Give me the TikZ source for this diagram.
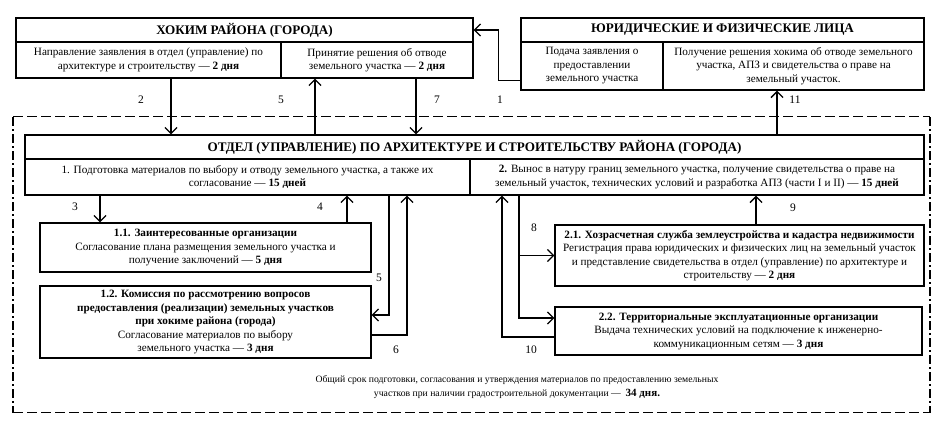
\documentclass[tikz,border=0pt]{standalone}
\usepackage{fontspec}
\setmainfont{Liberation Serif}
\usetikzlibrary{arrows.meta}

\begin{document}
\begin{tikzpicture}[x=1pt,y=-1pt,
    box/.style={draw, line width=1.3pt, align=center, inner sep=1pt,
        font=\fontsize{11.2}{13.5}\selectfont},
    head/.style={box, font=\fontsize{13.1}{14}\selectfont\bfseries},
    arr/.style={line width=1.3pt, -{Straight Barb[length=6pt,width=12pt]}},
    lbl/.style={font=\fontsize{11.5}{13}\selectfont}
]
    \useasboundingbox (0,0) rectangle (950,439);

    % Dashed frame round the department
    \draw[line width=0.9pt, double, double distance=0.8pt, dash pattern=on 10pt off 4pt] (13,117) -- (930,117);
    \draw[line width=0.9pt, double, double distance=0.8pt, dash pattern=on 10pt off 4pt] (13,413) -- (930,413);
    \draw[line width=1.1pt, dash pattern=on 9pt off 3pt on 2pt off 3pt] (13,117) -- (13,413);
    \draw[line width=1.1pt, dash pattern=on 9pt off 3pt on 2pt off 3pt] (930,117) -- (930,413);

    % Hokim of the district
    \node[head, minimum width=457, minimum height=24] (hokimT) at (244.5,30) {ХОКИМ РАЙОНА (ГОРОДА)};
    \node[box, minimum width=265, minimum height=36] (hokimL) at (148.5,60)
        {Направление заявления в отдел (управление) по\\архитектуре и строительству — \textbf{2 дня}};
    \node[box, minimum width=192, minimum height=36] (hokimR) at (377,60)
        {Принятие решения об отводе\\земельного участка — \textbf{2 дня}};

    % Legal and natural persons
    \node[head, minimum width=403, minimum height=24] (persT) at (722.5,30) {ЮРИДИЧЕСКИЕ И ФИЗИЧЕСКИЕ ЛИЦА};
    \node[box, minimum width=142, minimum height=48] (persL) at (592,66)
        {Подача заявления о\\предоставлении\\земельного участка};
    \node[box, minimum width=261, minimum height=48] (persR) at (793.5,66)
        {Получение решения хокима об отводе земельного\\участка, АПЗ и свидетельства о праве на\\земельный участок.};

    % Department of architecture
    \node[head, minimum width=899, minimum height=24] (otdelT) at (474.5,147)
        {ОТДЕЛ (УПРАВЛЕНИЕ) ПО АРХИТЕКТУРЕ И СТРОИТЕЛЬСТВУ РАЙОНА (ГОРОДА)};
    \node[box, minimum width=445, minimum height=36] (otdelL) at (247.5,177)
        {1. Подготовка материалов по выбору и отводу земельного участка, а также их\\согласование — \textbf{15 дней}};
    \node[box, minimum width=454, minimum height=36] (otdelR) at (697,177)
        {\textbf{2.} Вынос в натуру границ земельного участка, получение свидетельства о праве на\\земельный участок, технических условий и разработка АПЗ (части I и II) — \textbf{15 дней}};

    % Sub-stages
    \node[box, minimum width=331, minimum height=49] (b11) at (205.5,247.5)
        {\textbf{1.1. Заинтересованные организации}\\Согласование плана размещения земельного участка и\\получение заключений — \textbf{5 дня}};
    \node[box, minimum width=331, minimum height=72] (b12) at (205.5,322)
        {\textbf{1.2. Комиссия по рассмотрению вопросов}\\\textbf{предоставления (реализации) земельных участков}\\\textbf{при хокиме района (города)}\\Согласование материалов по выбору\\земельного участка — \textbf{3 дня}};
    \node[box, minimum width=369, minimum height=61] (b21) at (739.5,255.5)
        {\textbf{2.1. Хозрасчетная служба землеустройства и кадастра недвижимости}\\Регистрация права юридических и физических лиц на земельный участок\\и представление свидетельства в отдел (управление) по архитектуре и\\строительству — \textbf{2 дня}};
    \node[box, minimum width=367, minimum height=48] (b22) at (738.5,331)
        {\textbf{2.2. Территориальные эксплуатационные организации}\\Выдача технических условий на подключение к инженерно-\\коммуникационным сетям — \textbf{3 дня}};

    % Total term
    \node[font=\fontsize{9.7}{14.5}\selectfont, align=center] (total) at (517,387)
        {Общий срок подготовки, согласования и утверждения материалов по предоставлению земельных\\участков при наличии градостроительной документации —\ \ {\fontsize{11}{14.5}\selectfont\textbf{34 дня.}}};

    % Columns of the connectors
    \coordinate (xa2) at (171,0);
    \coordinate (xa5) at (315,0);
    \coordinate (xa7) at (416,0);
    \coordinate (xa11) at (777,0);
    \coordinate (xa3) at (100,0);
    \coordinate (xa4) at (347,0);
    \coordinate (xb5) at (389,0);
    \coordinate (xa6) at (407,0);
    \coordinate (xa10) at (502,0);
    \coordinate (xa8) at (519,0);
    \coordinate (xa9) at (756,0);

    % Connectors
    \draw[arr] ([yshift=10pt]persL.south west) -| ([xshift=25pt]hokimT.east) -- (hokimT.east); % 1
    \draw[arr] (xa2 |- hokimL.south) -- (xa2 |- otdelT.north); % 2
    \draw[arr] (xa5 |- otdelT.north) -- (xa5 |- hokimR.south); % 5
    \draw[arr] (xa7 |- hokimR.south) -- (xa7 |- otdelT.north); % 7
    \draw[arr] (xa11 |- otdelT.north) -- (xa11 |- persR.south); % 11
    \draw[arr] (xa3 |- otdelL.south) -- (xa3 |- b11.north); % 3
    \draw[arr] (xa4 |- b11.north) -- (xa4 |- otdelL.south); % 4
    \draw[arr] (xb5 |- otdelL.south) |- ([yshift=7pt]b12.east); % 5
    \draw[arr] ([yshift=-13pt]b12.east) -| (xa6 |- otdelL.south); % 6
    \draw[arr] (xa8 |- otdelR.south) |- ([yshift=13pt]b22.west); % 8
    \draw[arr] (xa8 |- b21.west) -- (b21.west);
    \draw[arr] ([yshift=-6pt]b22.west) -| (xa10 |- otdelR.south); % 10
    \draw[arr] (xa9 |- b21.north) -- (xa9 |- otdelR.south); % 9

    % Numbers of the steps
    \node[lbl] (n1) at (500,100) {1};
    \node[lbl] (n2) at (141,100) {2};
    \node[lbl] (n5) at (281,100) {5};
    \node[lbl] (n7) at (437,100) {7};
    \node[lbl] (n11) at (795,100) {11};
    \node[lbl] (n3) at (75,207) {3};
    \node[lbl] (n4) at (320,207) {4};
    \node[lbl] (n5b) at (379,278) {5};
    \node[lbl] (n6) at (396,350) {6};
    \node[lbl] (n8) at (534,228) {8};
    \node[lbl] (n10) at (531,350) {10};
    \node[lbl] (n9) at (793,208) {9};
\end{tikzpicture}
\end{document}
